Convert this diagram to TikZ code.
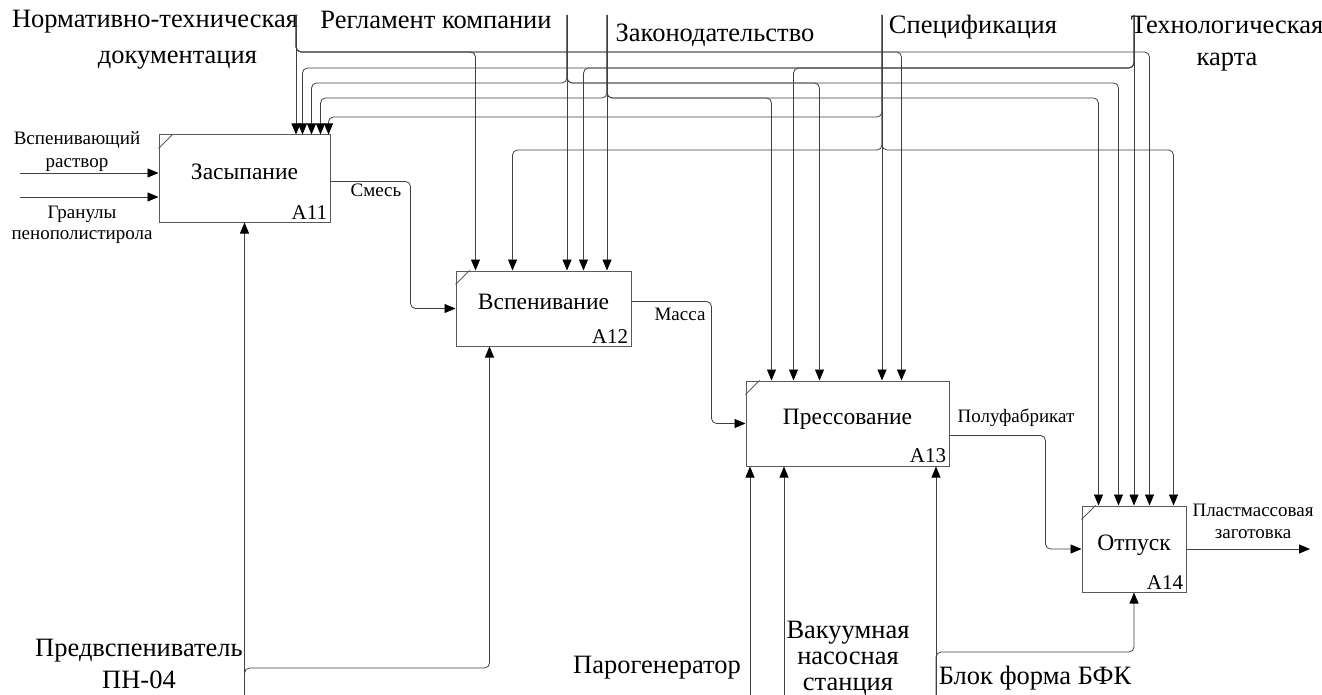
\documentclass[tikz,border=0pt]{standalone}
\usepackage{fontspec}
\setmainfont{Liberation Serif}
\usetikzlibrary{positioning,arrows.meta}

\begin{document}
\begin{tikzpicture}[x=1pt, y=-1pt, line width=0.8pt,
  box/.style = {draw=black!65, line width=1pt, inner sep=0pt, text depth=13pt, font=\fontsize{23.5}{26}\selectfont},
  num/.style = {anchor=south east, inner sep=3pt, font=\fontsize{21}{24}\selectfont},
  arr/.style = {draw=black!75, rounded corners=5pt, -{Triangle[length=11pt, width=9pt, color=black]}},
  big/.style = {align=center, font=\fontsize{26.5}{32}\selectfont},
  small/.style = {align=center, font=\fontsize{19}{22}\selectfont}]
\useasboundingbox (0,0) rectangle (1322,695);

\node[box, minimum width=171pt, minimum height=87pt] (zas) at (244.5,178.5) {Засыпание};
\node[box, minimum width=175pt, minimum height=75pt] (vsp) [below right=48pt and 125pt of zas] {Вспенивание};
\node[box, minimum width=203pt, minimum height=85pt] (prs) [below right=34pt and 114pt of vsp] {Прессование};
\node[box, minimum width=104pt, minimum height=86pt] (otp) [below right=39pt and 132pt of prs] {Отпуск};
\node[num] (zasn) at (zas.south east) {A11};
\node[num] (vspn) at (vsp.south east) {A12};
\node[num] (prsn) at (prs.south east) {A13};
\node[num] (otpn) at (otp.south east) {A14};
\foreach \b in {zas,vsp,prs,otp}
  \draw[black!65] (\b.north west) ++(0,14) -- ++(14,-14);

\coordinate (ntd) at (296,15);
\coordinate (reg) at (567,15);
\coordinate (zak) at (607,15);
\coordinate (spc) at (882,15);
\coordinate (tk) at (1134,15);
\node[big, font=\fontsize{26.5}{36}\selectfont] (lntd) at (155,40) {Нормативно-техническая\\\hspace*{45pt}документация};
\node[big] (lreg) at (436,20) {Регламент компании};
\node[big] (lzak) at (715,35) {Законодательство};
\node[big] (lspc) at (973,27) {Спецификация};
\node[big] (ltk) at (1227,44) {Технологическая\\карта};

\draw[arr] (ntd) -- (ntd |- zas.north);
\draw[arr] (ntd) -- (ntd |- 0,52) -| ([xshift=20pt]vsp.north west);
\draw[arr] (ntd) -- (ntd |- 0,52) -| ([xshift=156pt]prs.north west);
\draw[arr] (ntd) -- (ntd |- 0,52) -| ([xshift=68pt]otp.north west);

\draw[arr] (reg) -- (reg |- vsp.north);
\draw[arr] (reg) -- (reg |- 0,83) -| ([xshift=153pt]zas.north west);
\draw[arr] (reg) -- (reg |- 0,83) -| ([xshift=74pt]prs.north west);
\draw[arr] (reg) -- (reg |- 0,83) -| ([xshift=37pt]otp.north west);

\draw[arr] (zak) -- (zak |- vsp.north);
\draw[arr] (zak) -- (zak |- 0,98) -| ([xshift=162pt]zas.north west);
\draw[arr] (zak) -- (zak |- 0,98) -| ([xshift=26pt]prs.north west);
\draw[arr] (zak) -- (zak |- 0,98) -| ([xshift=17pt]otp.north west);

\draw[arr] (spc) -- (spc |- prs.north);
\draw[arr] (spc) -- (spc |- 0,117) -| ([xshift=170pt]zas.north west);
\draw[arr] (spc) -- (spc |- 0,150) -| ([xshift=57pt]vsp.north west);
\draw[arr] (spc) -- (spc |- 0,150) -| ([xshift=92pt]otp.north west);

\draw[arr] (tk) -- (tk |- otp.north);
\draw[arr] (tk) -- (tk |- 0,68) -| ([xshift=144pt]zas.north west);
\draw[arr] (tk) -- (tk |- 0,68) -| ([xshift=128pt]vsp.north west);
\draw[arr] (tk) -- (tk |- 0,68) -| ([xshift=48pt]prs.north west);

\coordinate (vr) at (20,173);
\coordinate (gr) at (20,197);
\node[small, font=\fontsize{19}{23}\selectfont] (lvr) at (77,152) {Вспенивающий\\раствор};
\node[small, font=\fontsize{19}{21}\selectfont] (lgr) at (82,225) {Гранулы\\пенополистирола};
\draw[arr] (vr) -- (vr -| zas.west);
\draw[arr] (gr) -- (gr -| zas.west);

\draw[arr] ([yshift=-3pt]zas.east) -- ++(80,0) |- (vsp.west);
\draw[arr] ([yshift=7pt]vsp.east) -- ++(80,0) |- (prs.west);
\draw[arr] ([yshift=-12pt]prs.east) -- ++(96,0) |- (otp.west);
\coordinate (pz) at (1310,545);
\draw[arr] (otp.east) -- (otp.east -| pz);
\node[small] (lsm) at (376,190) {Смесь};
\node[small] (lms) at (680,314) {Масса};
\node[small] (lpf) at (1016,418) {Полуфабрикат};
\node[small] (lpz) at (1253,521) {Пластмассовая\\заготовка};

\coordinate (pv) at (244.5,695);
\coordinate (pg) at (750,695);
\coordinate (vn) at (784,695);
\coordinate (bf) at (936,695);
\draw[arr] (pv) -- (pv |- zas.south);
\draw[arr] (pv) -- (pv |- 0,668) -| ([xshift=34pt]vsp.south west);
\draw[arr] (pg) -- (pg |- prs.south);
\draw[arr] (vn) -- (vn |- prs.south);
\draw[arr] (bf) -- (bf |- prs.south);
\draw[arr] (bf) -- (bf |- 0,652) -| (otp.south);
\node[big] (lpv) at (139,664) {Предвспениватель\\ПН-04};
\node[big] (lpg) at (657,668) {Парогенератор};
\node[big, font=\fontsize{26.5}{26}\selectfont] (lvn) at (848,658) {Вакуумная\\насосная\\станция};
\node[big] (lbf) at (1035,678) {Блок форма БФК};
\end{tikzpicture}
\end{document}
